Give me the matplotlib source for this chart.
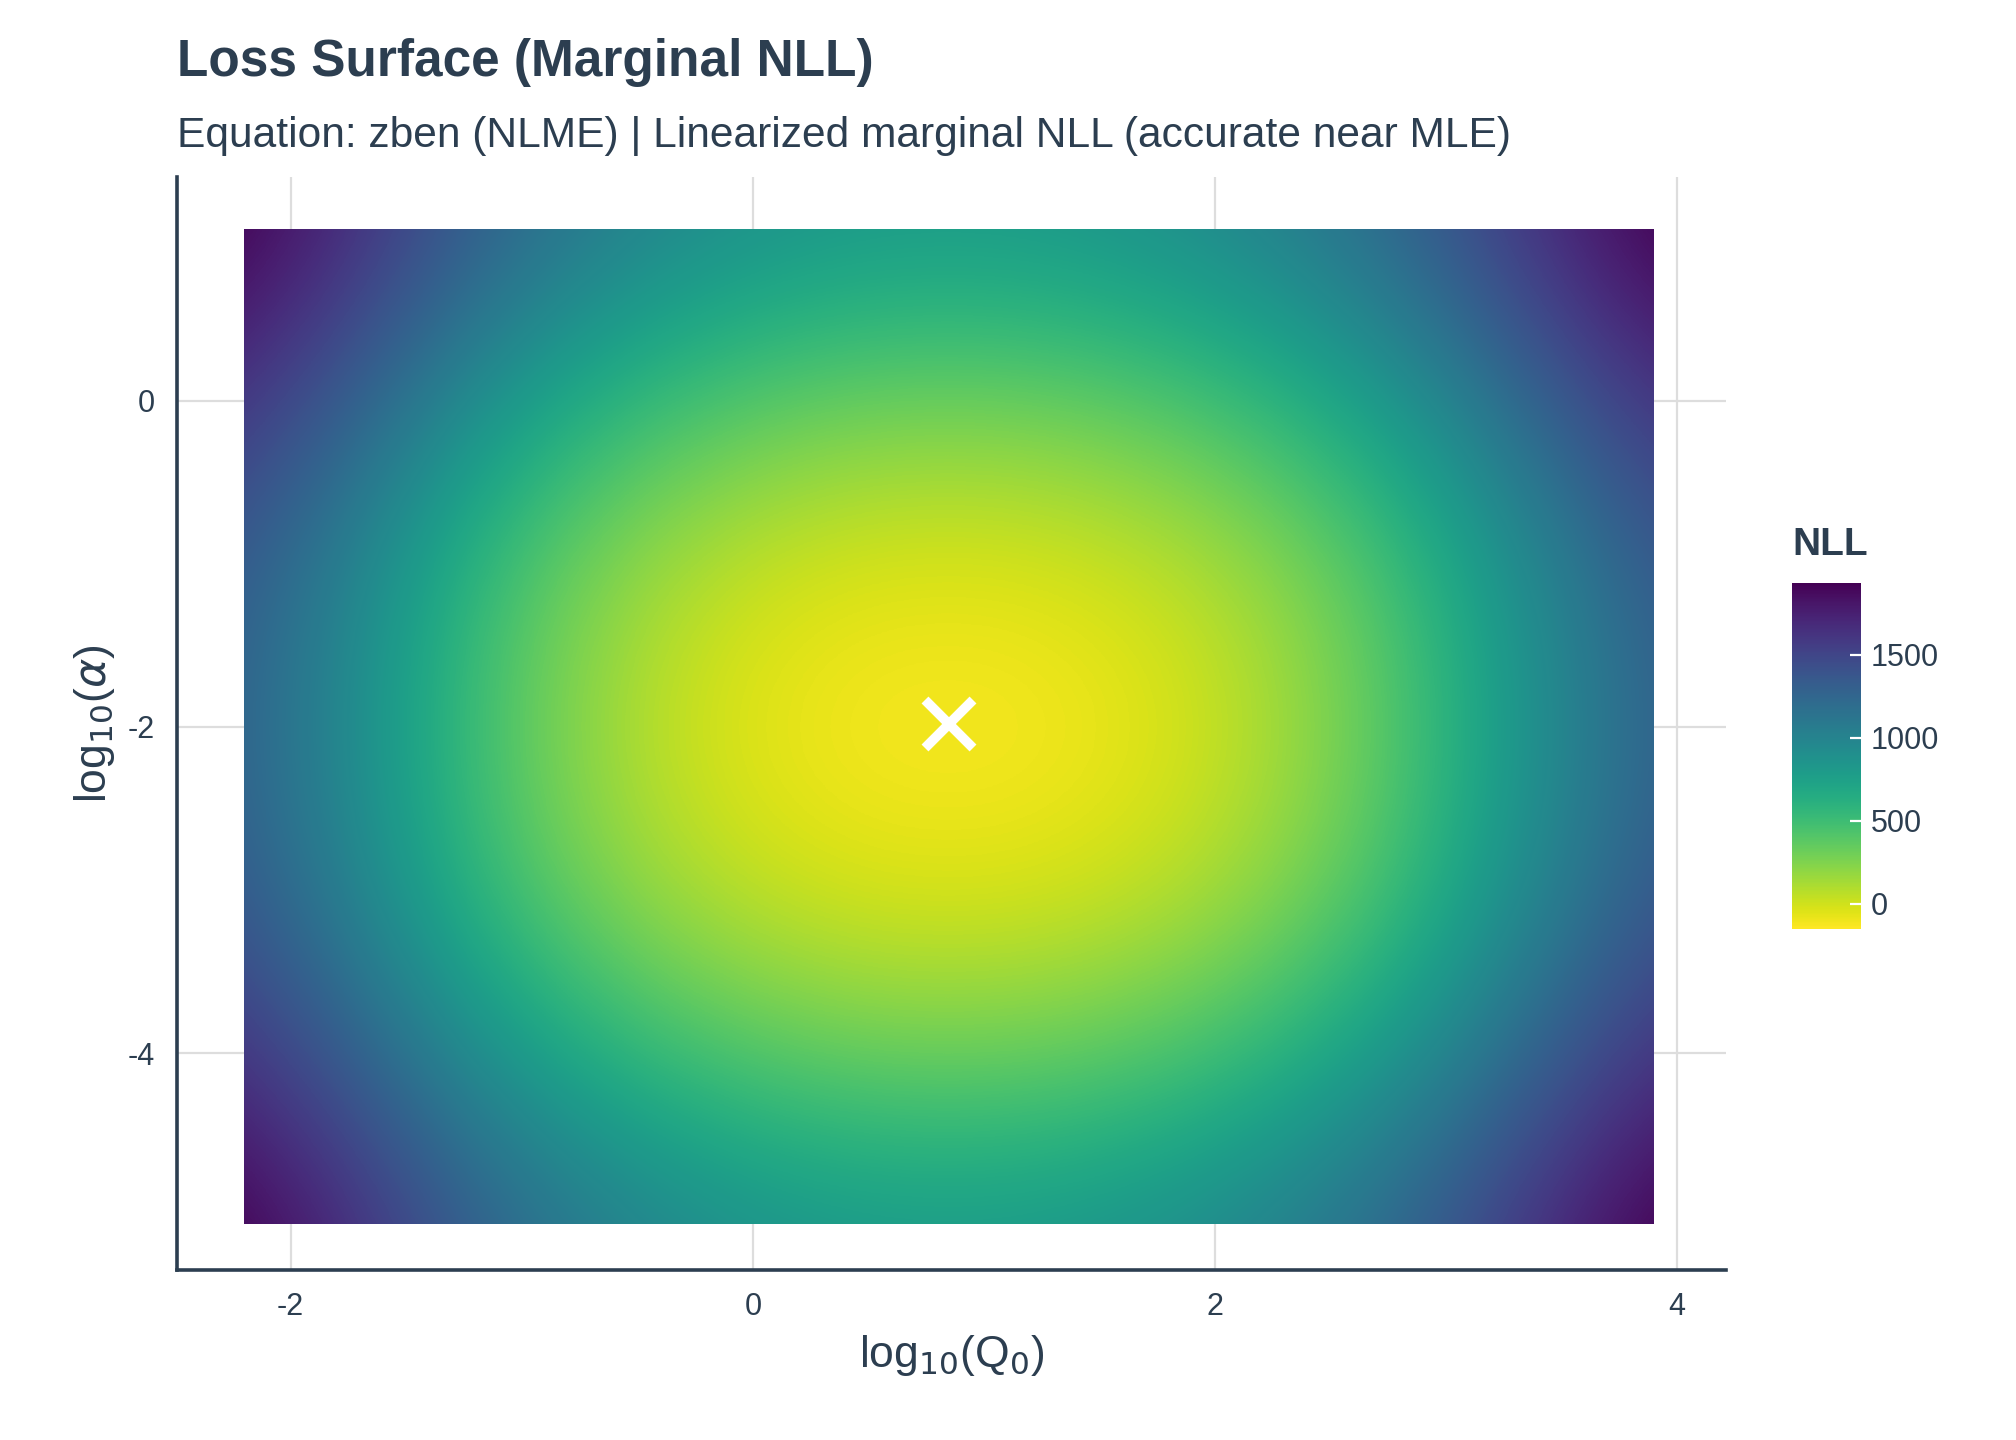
import numpy as np
import matplotlib
matplotlib.use("Agg")
import matplotlib.pyplot as plt
from matplotlib.patches import Rectangle

plt.rcParams['font.family'] = ['Liberation Sans', 'DejaVu Sans']
plt.rcParams['axes.unicode_minus'] = False

# grid extents (log10 Q0, log10 alpha)
q0_range = [-2.2, 3.9]
alpha_range = [-5.05, 1.05]
# coarse NLL grid at evenly spaced nodes across the ranges
# (rows bottom->top, cols left->right)
nll_grid = [
    [2050, 1260, 900, 800, 900, 1260, 2050],
    [1720, 850, 410, 290, 410, 850, 1720],
    [1450, 480, 20, -80, 20, 480, 1450],
    [1370, 400, -100, -160, -100, 400, 1370],
    [1450, 480, 20, -80, 20, 480, 1450],
    [1720, 850, 410, 290, 410, 850, 1720],
    [2050, 1260, 900, 800, 900, 1260, 2050],
]
mle_q0 = 0.85
mle_alpha = -1.98
cbar_ticks = [0, 500, 1000, 1500]

txt = '#2c3e50'
fig = plt.figure(figsize=(10.08, 7.2), dpi=200)
ax = fig.add_axes([0.088, 0.118, 0.768, 0.759])
Z = np.array(nll_grid)
ny, nx = Z.shape
dx = (q0_range[1] - q0_range[0]) / (nx - 1)
dy = (alpha_range[1] - alpha_range[0]) / (ny - 1)
im = ax.imshow(Z, origin='lower', cmap='viridis_r',
               extent=[q0_range[0] - dx / 2, q0_range[1] + dx / 2,
                       alpha_range[0] - dy / 2, alpha_range[1] + dy / 2],
               aspect='auto', interpolation='bicubic', vmin=-150, vmax=1930, zorder=2)
clip = Rectangle((q0_range[0], alpha_range[0]), q0_range[1] - q0_range[0],
                 alpha_range[1] - alpha_range[0], transform=ax.transData)
im.set_clip_path(clip)
ax.plot([mle_q0], [mle_alpha], marker='x', color='white', markersize=17, mew=3.5, zorder=3)
ax.set_xlim(-2.49, 4.21)
ax.set_ylim(-5.33, 1.37)
ax.set_xticks([-2, 0, 2, 4])
ax.set_yticks([-4, -2, 0])
ax.grid(True, color='#dddddd', lw=0.8, zorder=0)
ax.set_axisbelow(True)
for s in ['top', 'right']:
    ax.spines[s].set_visible(False)
for s in ['left', 'bottom']:
    ax.spines[s].set_color(txt)
    ax.spines[s].set_linewidth(1.3)
ax.tick_params(length=0, labelsize=11, colors=txt, pad=8)
ax.set_xlabel(r'log$_{10}$(Q$_0$)', fontsize=16, color=txt)
ax.set_ylabel(r'log$_{10}$($\alpha$)', fontsize=16, color=txt)
fig.text(0.088, 0.947, 'Loss Surface (Marginal NLL)', fontsize=18.5, fontweight='bold', color=txt)
fig.text(0.088, 0.898, 'Equation: zben (NLME) | Linearized marginal NLL (accurate near MLE)', fontsize=15.3, color=txt)

cax = fig.add_axes([0.889, 0.355, 0.034, 0.24])
cb = fig.colorbar(im, cax=cax, ticks=cbar_ticks)
cb.outline.set_visible(False)
cb.ax.tick_params(length=4, color='white', labelsize=11, labelcolor=txt, direction='in')
cax.set_title('NLL', fontsize=14, fontweight='bold', color=txt, loc='left', pad=10)
fig.savefig('out.png', dpi=200, facecolor='white')
